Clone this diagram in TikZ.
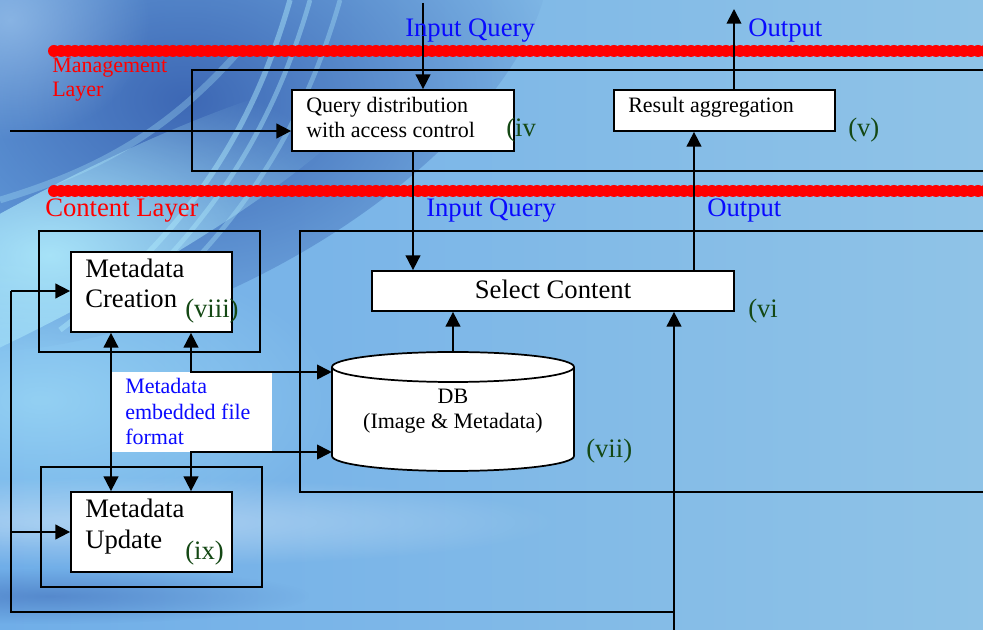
\documentclass[tikz,border=0pt]{standalone}
\usepackage{fontspec}
\setmainfont{Liberation Serif}
\usetikzlibrary{arrows.meta,calc,fadings}
\definecolor{qblue}{RGB}{10,10,255}
\definecolor{lred}{RGB}{255,0,0}
\definecolor{lgreen}{RGB}{20,72,20}
\definecolor{bgL}{RGB}{112,174,232}
\definecolor{bgR}{RGB}{143,195,231}
\definecolor{bgD}{RGB}{58,100,178}
\definecolor{bgC}{RGB}{175,235,252}
\tikzfading[name=soft, inner color=transparent!0, outer color=transparent!100]
\begin{document}
\begin{tikzpicture}[x=0.75pt,y=-0.75pt,
  box/.style={draw=black,fill=white,line width=1.3pt,inner sep=0pt,rectangle},
  framebox/.style={draw=black,line width=1.3pt,inner sep=0pt,rectangle},
  notebox/.style={fill=white,inner sep=0pt,rectangle},
  ghost/.style={inner sep=0pt,rectangle},
  conn/.style={line width=1.3pt,-{Triangle[length=11pt,width=11pt]}},
  dconn/.style={line width=1.3pt,{Triangle[length=11pt,width=11pt]}-{Triangle[length=11pt,width=11pt]}},
  plain/.style={line width=1.3pt},
  redline/.style={draw=lred,line width=9pt,line cap=round,dash pattern=on 0pt off 5.25pt},
  big/.style={font=\fontsize{20}{22.5}\selectfont},
  small/.style={font=\fontsize{16.5}{18.75}\selectfont},
  txt/.style={inner sep=0pt,anchor=base west},
  fz/.style={path fading=soft},
]
\useasboundingbox (0,0) rectangle (983,630);
\clip (0,0) rectangle (983,630);
% background
\shade[left color=bgL, right color=bgR] (0,0) rectangle (983,630);
\fill[bgD, opacity=0.95, fz, rotate around={28:(185,100)}] (185,100) ellipse [x radius=400, y radius=190];
\fill[bgL!60!white, opacity=0.6, fz] (10,20) ellipse [x radius=140, y radius=120];
\fill[bgC, opacity=0.9, fz, rotate around={28:(50,255)}] (50,255) ellipse [x radius=360, y radius=60];
\fill[bgC, opacity=0.55, fz] (40,400) ellipse [x radius=300, y radius=150];
\fill[white, opacity=0.4, fz] (110,522) ellipse [x radius=450, y radius=45];
\fill[bgD, opacity=0.5, fz] (50,596) ellipse [x radius=260, y radius=28];
\draw[bgC, opacity=0.45, line width=4pt] (60,330) .. controls (180,240) and (250,140) .. (290,0);
\draw[bgC, opacity=0.40, line width=3.5pt] (90,330) .. controls (200,240) and (270,140) .. (310,0);
\draw[bgC, opacity=0.35, line width=3.5pt] (120,330) .. controls (230,240) and (300,140) .. (340,0);
\draw[bgC, opacity=0.30, line width=5pt] (0,200) .. controls (100,170) and (170,130) .. (240,50);

% red layer lines
\draw[redline] (54,51) -- (990,51);
\draw[redline] (54,191) -- (990,191);

% frames
\node[framebox, minimum width=602.25pt, minimum height=75.75pt] (mgmt) at (593.5,120.5) {};
\node[framebox, minimum width=521.25pt, minimum height=195.75pt] (cont) at (647.5,361.5) {};
\node[framebox, minimum width=165.75pt, minimum height=90.75pt] (mcf) at (149.5,291.5) {};
\node[framebox, minimum width=165.75pt, minimum height=90pt] (muf) at (151.5,527) {};

% boxes
\node[box, minimum width=166.5pt, minimum height=45.75pt] (qd) at (403,120.5) {};
\node[box, minimum width=165.75pt, minimum height=30.75pt] (ra) at (724.5,110.5) {};
\node[box, minimum width=271.5pt, minimum height=30pt] (sc) at (553,291) {};
\node[box, minimum width=120.75pt, minimum height=60pt] (mc) at (151.5,292) {};
\node[box, minimum width=120.75pt, minimum height=60pt] (mu) at (151.5,532) {};
\node[notebox, minimum width=120pt, minimum height=60pt] (note) at (192,412) {};
\node[ghost, minimum width=181.5pt, minimum height=89.25pt] (db) at (453,411.5) {};

% DB cylinder
\fill[white] (332,367) -- (332,456) arc[start angle=180,end angle=0,x radius=121,y radius=15] -- (574,367) arc[start angle=0,end angle=-180,x radius=121,y radius=15] -- cycle;
\draw[plain] (332,367) -- (332,456) arc[start angle=180,end angle=0,x radius=121,y radius=15] -- (574,367);
\draw[plain] (453,367) ellipse [x radius=121, y radius=15];

% coordinates
\coordinate (iqtop) at (423,3);
\coordinate (outtop) at (734,9);
\coordinate (leftin) at (10,131);
\coordinate (fbB) at (674,632);
\coordinate (fb) at (674,612);
\coordinate (fbL) at (11,612);
\coordinate (fbC) at (11,291);
\coordinate (fbU) at (11,532);
\coordinate (dbU) at (191,372);
\coordinate (dbL) at (191,452);

% connectors
\draw[conn] (iqtop) -- (iqtop |- qd.north);
\draw[conn] (ra.north -| outtop) -- (outtop);
\draw[conn] (leftin) -- (leftin -| qd.west);
\draw[conn] (qd.south -| 413,0) -- (sc.north -| 413,0);
\draw[conn] (sc.north -| 694,0) -- (ra.south -| 694,0);
\draw[conn] (db.north) -- (sc.south -| db.north);
\draw[conn] (fbB) -- (sc.south -| fbB);
\draw[plain] (fb) -- (fbL) -- (fbC);
\draw[conn] (fbC) -- (fbC -| mc.west);
\draw[conn] (fbU) -- (fbU -| mu.west);
\draw[dconn] (mc.south -| 111,0) -- (mu.north -| 111,0);
\draw[dconn] (mc.south -| dbU) -- (dbU) -- (dbU -| db.west);
\draw[dconn] (mu.north -| dbL) -- (dbL) -- (dbL -| db.west);

% texts
\node[txt, big, text=qblue] (t1) at (405,37) {Input Query};
\node[txt, big, text=qblue] (t2) at (748,37) {Output};
\node[txt, small, text=lred] (t3) at (52,73) {Management};
\node[txt, small, text=lred] (t4) at (52,97) {Layer};
\node[txt, small] (t5) at (306,113) {Query distribution};
\node[txt, small] (t6) at (306,138) {with access control};
\node[txt, big, text=lgreen] (t7) at (506,137) {(iv};
\node[txt, small] (t8) at (628,113) {Result aggregation};
\node[txt, big, text=lgreen] (t9) at (848,137) {(v)};
\node[txt, big, text=lred] (t10) at (45,217) {Content Layer};
\node[txt, big, text=qblue] (t11) at (426,217) {Input Query};
\node[txt, big, text=qblue] (t12) at (707,217) {Output};
\node[txt, big] (t13) at (85,278) {Metadata};
\node[txt, big] (t14) at (85,308) {Creation};
\node[txt, big, text=lgreen] (t15) at (185,318) {(viii)};
\node[inner sep=0pt, anchor=base, big] (t16) at (553,299) {Select Content};
\node[txt, big, text=lgreen] (t17) at (748,318) {(vi};
\node[txt, small, text=qblue] (t18) at (125,394) {Metadata};
\node[txt, small, text=qblue] (t19) at (125,420) {embedded file};
\node[txt, small, text=qblue] (t20) at (125,445) {format};
\node[inner sep=0pt, anchor=base, small] (t21) at (453,404) {DB};
\node[inner sep=0pt, anchor=base, small] (t22) at (453,429) {(Image \& Metadata)};
\node[txt, big, text=lgreen] (t23) at (586,458) {(vii)};
\node[txt, big] (t24) at (85,518) {Metadata};
\node[txt, big] (t25) at (85,549) {Update};
\node[txt, big, text=lgreen] (t26) at (185,560) {(ix)};
\end{tikzpicture}
\end{document}
